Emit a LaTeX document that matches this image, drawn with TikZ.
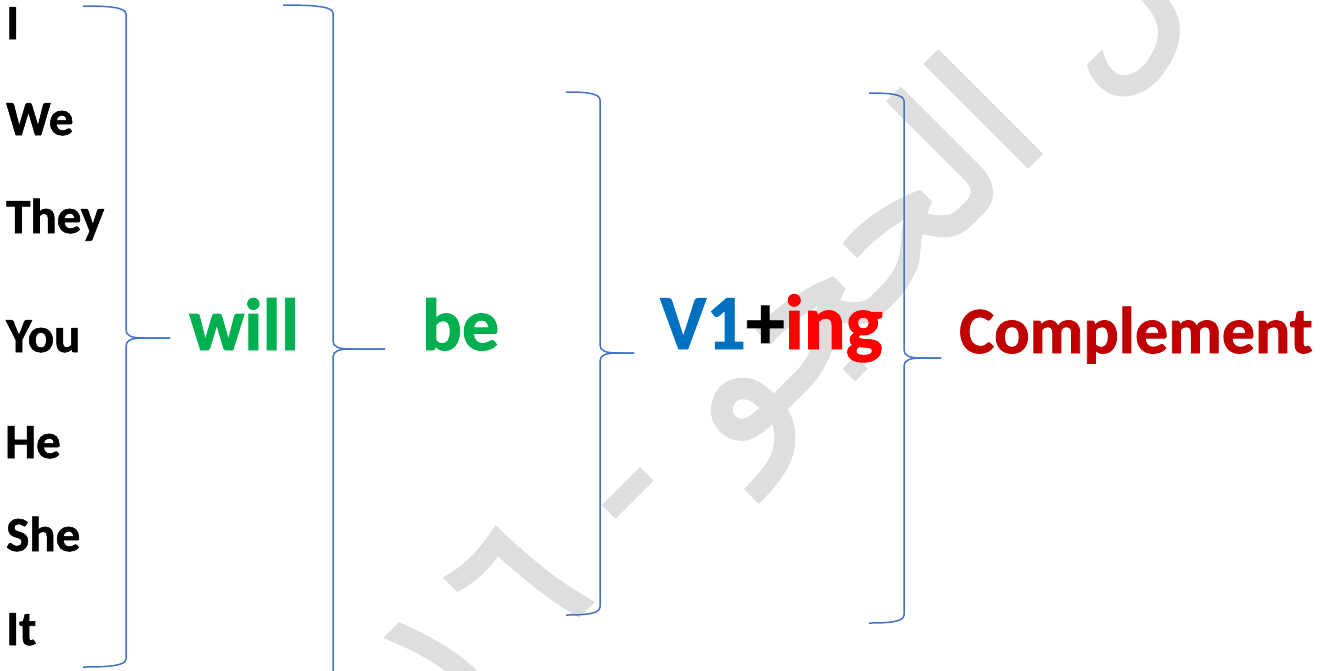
\documentclass[tikz,border=0pt]{standalone}
\usepackage{fontspec}
\setmainfont{Carlito}[BoldFeatures={FakeBold=1.2}]
\newfontfamily\arabicfont[Script=Arabic,FakeBold=2]{DejaVu Sans}
\TeXXeTstate=1
\definecolor{bracecol}{HTML}{4472C4}
\definecolor{wgreen}{HTML}{00B050}
\definecolor{vblue}{HTML}{0070C0}
\definecolor{ingred}{HTML}{FF0000}
\definecolor{compred}{HTML}{C00000}
\definecolor{wmgray}{HTML}{DEDEDE}
% brace: x0 (end), x1 (vertical), xt (tip), ytop, ytip, ybot
\newcommand\rbrc[6]{%
  \draw[bracestyle] (#1,#4) .. controls (#1+0.55*#2-0.55*#1,#4) and (#2,#4+1) .. (#2,#4+8)
    -- (#2,#5-8) .. controls (#2,#5-2) and (#2+6,#5) .. (#2+18,#5) -- (#3,#5);
  \draw[bracestyle] (#3,#5) -- (#2+18,#5) .. controls (#2+6,#5) and (#2,#5+2) .. (#2,#5+8)
    -- (#2,#6-8) .. controls (#2,#6-1) and (#1+0.55*#2-0.55*#1,#6) .. (#1,#6);
}
\tikzset{
  bracestyle/.style={draw=bracecol, line width=1.5pt},
  pron/.style={anchor=base west, inner sep=0pt, font=\bfseries\fontsize{49}{54}\selectfont},
  big/.style={anchor=base west, inner sep=0pt, font=\bfseries\fontsize{74}{80}\selectfont},
}
\begin{document}
\begin{tikzpicture}[x=1pt,y=-1pt]
\fill[white] (0,0) rectangle (1333,670);
\useasboundingbox (0,0) rectangle (1333,670);
% watermark
\node[text=wmgray, rotate=45, font=\arabicfont\fontsize{190}{200}\selectfont] (wm) at (850,275)
  {\beginR نضال الحجو - \beginL ١١٦\endL\endR};
% pronouns
\node[pron] (I) at (6,39) {I};
\node[pron] (We) at (6,135) {We};
\node[pron] (They) at (6,233) {They};
\node[pron] (You) at (6,352) {You};
\node[pron] (He) at (5,458) {He};
\node[pron] (She) at (6,551) {She};
\node[pron] (It) at (6,645) {It};
% braces
\rbrc{83}{126}{170}{6}{338}{667}
\rbrc{283}{333}{385}{5}{349}{693}
\rbrc{566}{600}{634}{92}{353}{615}
\rbrc{869}{904}{941}{93}{358}{623}
% words
\node[big, text=wgreen] (will) at (189,350) {will};
\node[big, text=wgreen] (be) at (422,350) {be};
\node[big, font=\bfseries\fontsize{78}{84}\selectfont] (ving) at (660,349) {\textcolor{vblue}{V1}+\textcolor{ingred}{ing}};
\node[big, text=compred, font=\bfseries\fontsize{66}{72}\selectfont] (comp) at (959,353) {Complement};
\end{tikzpicture}
\end{document}
